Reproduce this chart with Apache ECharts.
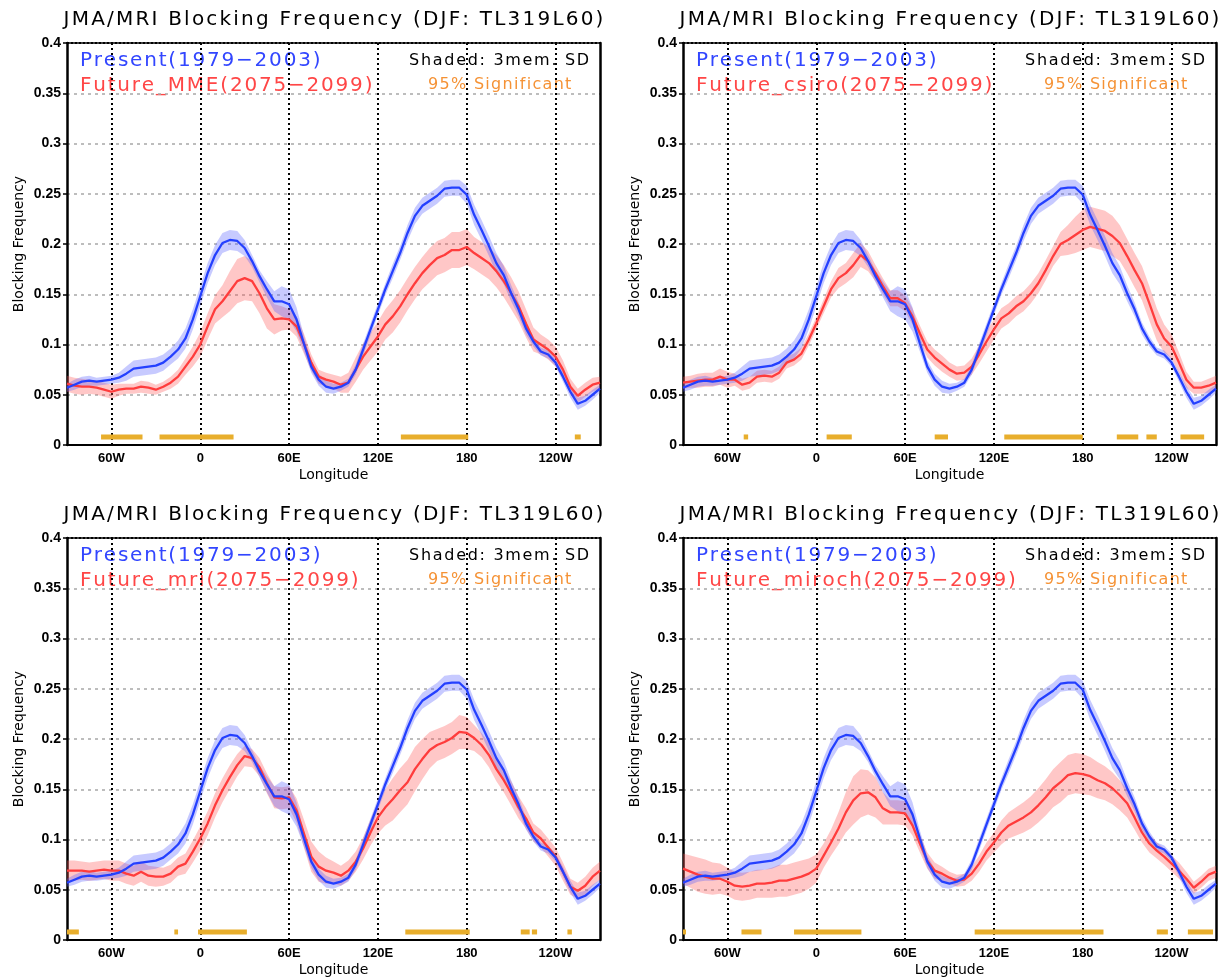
<!DOCTYPE html>
<html>
<head>
<meta charset="utf-8">
<title>JMA/MRI Blocking Frequency</title>
<script src="https://cdn.jsdelivr.net/npm/echarts@6/dist/echarts.min.js"></script>
<style>
  html, body { margin: 0; padding: 0; background: #fff; }
  #chart { width: 1231px; height: 978px; }
</style>
</head>
<body>
<div id="chart"></div>
<script>
// longitude (deg, east positive; 180..270 = 180..90W)
const LON = [-90,-85,-80,-75,-70,-65,-60,-55,-50,-45,-40,-35,-30,-25,-20,-15,-10,-5,0,5,10,15,20,25,30,35,40,45,50,55,60,65,70,75,80,85,90,95,100,105,110,115,120,125,130,135,140,145,150,155,160,165,170,175,180,185,190,195,200,205,210,215,220,225,230,235,240,245,250,255,260,265,270]

const TICKS = [-60, 0, 60, 120, 180, 240]
const TICK_LABELS = ['60W', '0', '60E', '120E', '180', '120W']

// Present (1979-2003), same in every panel
const PRESENT = [
  0.057,0.060,0.063,0.064,0.063,0.064,0.065,0.067,0.071,0.076,
  0.077,0.078,0.079,0.082,0.088,0.095,0.106,0.125,0.148,0.171,
  0.189,0.201,0.204,0.203,0.196,0.183,0.168,0.155,0.143,0.143,
  0.140,0.125,0.101,0.078,0.065,0.058,0.056,0.058,0.062,0.075,
  0.095,0.115,0.135,0.155,0.173,0.191,0.211,0.228,0.238,0.243,
  0.248,0.255,0.256,0.256,0.249,0.229,0.214,0.198,0.181,0.169,
  0.151,0.135,0.116,0.103,0.093,0.090,0.082,0.068,0.053,0.041,
  0.044,0.050,0.056]
const PRESENT_SD = [
  0.004,0.005,0.005,0.005,0.004,0.004,0.004,0.005,0.007,0.008,
  0.008,0.008,0.008,0.008,0.008,0.009,0.010,0.010,0.010,0.010,
  0.010,0.010,0.010,0.010,0.008,0.006,0.006,0.008,0.010,0.015,
  0.015,0.012,0.008,0.006,0.006,0.006,0.005,0.004,0.004,0.005,
  0.006,0.006,0.006,0.006,0.007,0.007,0.008,0.008,0.008,0.008,
  0.008,0.008,0.008,0.008,0.009,0.010,0.010,0.010,0.010,0.009,
  0.008,0.007,0.006,0.005,0.004,0.004,0.004,0.005,0.006,0.006,
  0.005,0.005,0.004]

const FUT_MME = [
  0.061,0.059,0.058,0.058,0.057,0.055,0.053,0.055,0.056,0.056,
  0.058,0.057,0.055,0.058,0.062,0.068,0.078,0.088,0.100,0.118,
  0.135,0.143,0.153,0.163,0.166,0.163,0.151,0.136,0.125,0.126,
  0.125,0.118,0.101,0.082,0.068,0.065,0.063,0.060,0.062,0.075,
  0.088,0.098,0.108,0.120,0.128,0.138,0.150,0.161,0.171,0.179,
  0.186,0.189,0.194,0.194,0.197,0.191,0.186,0.181,0.173,0.163,
  0.151,0.138,0.121,0.105,0.100,0.095,0.088,0.075,0.058,0.049,
  0.055,0.060,0.062]
const SD_MME = [
  0.008,0.008,0.008,0.007,0.007,0.007,0.007,0.006,0.005,0.005,
  0.006,0.006,0.005,0.005,0.006,0.007,0.008,0.010,0.012,0.013,
  0.014,0.016,0.020,0.022,0.022,0.020,0.020,0.020,0.015,0.012,
  0.010,0.010,0.010,0.008,0.007,0.007,0.007,0.008,0.010,0.012,
  0.013,0.014,0.015,0.015,0.016,0.016,0.016,0.016,0.016,0.017,
  0.017,0.017,0.018,0.018,0.018,0.016,0.016,0.016,0.016,0.016,
  0.016,0.015,0.014,0.012,0.010,0.010,0.010,0.009,0.008,0.007,
  0.007,0.007,0.006]

const FUT_CSIRO = [
  0.062,0.063,0.064,0.065,0.065,0.068,0.065,0.065,0.060,0.062,
  0.068,0.069,0.068,0.072,0.082,0.085,0.091,0.105,0.121,0.138,
  0.155,0.166,0.171,0.179,0.189,0.183,0.171,0.158,0.146,0.146,
  0.141,0.128,0.111,0.095,0.087,0.081,0.075,0.071,0.072,0.078,
  0.090,0.103,0.115,0.126,0.131,0.138,0.143,0.151,0.161,0.174,
  0.188,0.200,0.204,0.209,0.214,0.217,0.215,0.213,0.208,0.201,
  0.188,0.174,0.161,0.141,0.120,0.106,0.098,0.082,0.065,0.057,
  0.057,0.059,0.062]
const SD_CSIRO = [
  0.006,0.006,0.007,0.007,0.007,0.008,0.008,0.006,0.006,0.006,
  0.006,0.006,0.006,0.006,0.006,0.006,0.006,0.006,0.006,0.007,
  0.008,0.010,0.010,0.012,0.012,0.010,0.008,0.008,0.008,0.008,
  0.008,0.008,0.008,0.008,0.008,0.008,0.007,0.007,0.007,0.008,
  0.009,0.010,0.010,0.010,0.010,0.010,0.010,0.010,0.010,0.010,
  0.010,0.012,0.015,0.018,0.020,0.020,0.020,0.020,0.020,0.018,
  0.017,0.017,0.017,0.017,0.016,0.014,0.012,0.010,0.008,0.006,
  0.006,0.007,0.007]

const FUT_MRI = [
  0.069,0.069,0.069,0.068,0.069,0.070,0.069,0.069,0.066,0.064,
  0.068,0.064,0.063,0.063,0.066,0.073,0.076,0.088,0.101,0.116,
  0.134,0.149,0.162,0.174,0.183,0.181,0.172,0.156,0.142,0.141,
  0.142,0.129,0.106,0.083,0.073,0.069,0.067,0.064,0.069,0.078,
  0.091,0.107,0.122,0.132,0.140,0.149,0.157,0.170,0.180,0.189,
  0.194,0.197,0.201,0.207,0.206,0.201,0.194,0.184,0.170,0.159,
  0.146,0.132,0.121,0.107,0.101,0.092,0.083,0.068,0.053,0.049,
  0.054,0.063,0.069]
const SD_MRI = [
  0.010,0.010,0.009,0.009,0.009,0.009,0.010,0.010,0.010,0.010,
  0.010,0.010,0.010,0.009,0.009,0.009,0.010,0.011,0.012,0.012,
  0.012,0.012,0.012,0.011,0.010,0.009,0.009,0.010,0.011,0.011,
  0.011,0.012,0.014,0.015,0.015,0.013,0.011,0.010,0.010,0.010,
  0.011,0.013,0.016,0.018,0.021,0.022,0.022,0.022,0.020,0.018,
  0.016,0.016,0.016,0.017,0.016,0.013,0.012,0.012,0.012,0.012,
  0.012,0.011,0.010,0.009,0.009,0.009,0.009,0.009,0.008,0.008,
  0.009,0.009,0.009]

const FUT_MIROCH = [
  0.071,0.068,0.065,0.063,0.061,0.061,0.058,0.054,0.053,0.054,
  0.056,0.056,0.057,0.059,0.059,0.061,0.063,0.066,0.071,0.084,
  0.097,0.111,0.127,0.139,0.146,0.147,0.142,0.131,0.127,0.127,
  0.126,0.114,0.096,0.079,0.069,0.066,0.062,0.059,0.060,0.066,
  0.076,0.088,0.097,0.107,0.114,0.118,0.122,0.127,0.134,0.142,
  0.151,0.157,0.164,0.166,0.165,0.163,0.159,0.156,0.151,0.144,
  0.136,0.122,0.107,0.096,0.089,0.083,0.076,0.069,0.061,0.052,
  0.058,0.065,0.068]
const SD_MIROCH = [
  0.015,0.016,0.017,0.017,0.016,0.015,0.014,0.014,0.014,0.014,
  0.014,0.014,0.015,0.016,0.016,0.016,0.016,0.015,0.014,0.012,
  0.013,0.016,0.020,0.024,0.024,0.022,0.020,0.016,0.012,0.012,
  0.012,0.010,0.009,0.008,0.008,0.007,0.006,0.006,0.006,0.007,
  0.008,0.009,0.010,0.012,0.013,0.014,0.015,0.016,0.017,0.018,
  0.019,0.020,0.020,0.020,0.020,0.019,0.018,0.017,0.016,0.015,
  0.014,0.012,0.010,0.009,0.008,0.008,0.008,0.008,0.007,0.006,
  0.006,0.006,0.006]

// 95% significant longitude ranges [from, to]
const SIG_MME = [[-67, -39], [-27.5, 22.5], [135.5, 181], [253, 257]]
const SIG_CSIRO = [[-49, -46], [7, 24], [80, 89], [127, 180], [203, 217.5], [223, 230], [246, 262]]
const SIG_MRI = [[-90, -82], [-17.5, -15], [-1.5, 31.5], [138.5, 182], [216.5, 222.5], [224, 227.5], [248, 251]]
const SIG_MIROCH = [[-90, -88], [-50.5, -37], [-15, 30.5], [107, 194], [230, 237.5], [251, 268]]
const SIG_Y = 0.008

const TITLE = 'JMA/MRI Blocking Frequency (DJF: TL319L60)'
const PRESENT_LABEL = 'Present(1979\u22122003)'
const SHADE_LABEL = 'Shaded: 3mem. SD'
const SIG_LABEL = '95% Significant'

const PANELS = [
  { label: 'Future_MME(2075\u22122099)', mean: FUT_MME, sd: SD_MME, sig: SIG_MME },
  { label: 'Future_csiro(2075\u22122099)', mean: FUT_CSIRO, sd: SD_CSIRO, sig: SIG_CSIRO },
  { label: 'Future_mri(2075\u22122099)', mean: FUT_MRI, sd: SD_MRI, sig: SIG_MRI },
  { label: 'Future_miroch(2075\u22122099)', mean: FUT_MIROCH, sd: SD_MIROCH, sig: SIG_MIROCH }
]

const PANEL_POS = [[0, 0], [616, 0], [0, 495], [616, 495]]

const BLUE = '#2440ff'
const RED = '#ff3c3c'
const BLUE_BAND = 'rgba(80,90,255,0.32)'
const RED_BAND = 'rgba(255,80,80,0.32)'
const BAR = '#e8ae2c'
const ORANGE = '#f59235'

// wide-tracked text like the original plotting font
const spaced = (str) => str.split('').map(ch => '{c|' + ch + '}').join('')

const label = (x, y, str, size, pad, color, align) => ({
  type: 'text',
  x: x,
  y: y,
  silent: true,
  style: {
    text: spaced(str),
    fontSize: size,
    fontFamily: 'DejaVu Sans',
    fill: color,
    textAlign: align,
    textVerticalAlign: 'middle',
    rich: {
      c: { fontSize: size, fontFamily: 'DejaVu Sans', fill: color, padding: [0, pad, 0, pad] }
    }
  }
})

const bandItem = (fill) => (params, api) => {
  if (params.dataIndexInside !== 0) return null
  const n = params.dataInsideLength || LON.length
  const upper = []
  const lower = []
  for (let j = 0; j < n; j++) {
    upper.push(api.coord([api.value(0, j), api.value(2, j)]))
    lower.push(api.coord([api.value(0, j), api.value(1, j)]))
  }
  return {
    type: 'polygon',
    shape: { points: upper.concat(lower.reverse()) },
    style: { fill: fill }
  }
}

const sigItem = (params, api) => {
  const a = api.coord([api.value(0), api.value(2)])
  const b = api.coord([api.value(1), api.value(2)])
  return {
    type: 'rect',
    shape: { x: a[0], y: a[1] - 2.5, width: Math.max(b[0] - a[0], 3), height: 5 },
    style: { fill: BAR }
  }
}

const grids = []
const xMain = []
const xTop = []
const yMain = []
const yRight = []
const series = []
const texts = []

PANELS.forEach((p, i) => {
  const ox = PANEL_POS[i][0]
  const oy = PANEL_POS[i][1]

  grids.push({ left: 67 + ox, top: 43 + oy, width: 533, height: 402, containLabel: false, outerBoundsMode: 'none' })

  xMain.push({
    type: 'value', gridIndex: i, position: 'bottom', min: -90, max: 270,
    name: 'Longitude', nameLocation: 'middle', nameGap: 23,
    nameTextStyle: { fontFamily: 'DejaVu Sans', fontSize: 14, color: '#000' },
    axisLine: { show: true, onZero: false, lineStyle: { color: '#000', width: 2 } },
    axisTick: { show: false, customValues: TICKS },
    axisLabel: {
      customValues: TICKS, margin: 7,
      fontFamily: 'Liberation Sans', fontWeight: 'bold', fontSize: 13, color: '#000',
      formatter: (v) => TICK_LABELS[TICKS.indexOf(v)]
    },
    splitLine: { show: true, lineStyle: { color: '#000', width: 2, type: [2, 3] } }
  })
  xTop.push({
    type: 'value', gridIndex: i, position: 'top', min: -90, max: 270,
    axisLine: { show: true, onZero: false, lineStyle: { color: '#000', width: 2, type: [2, 2] } },
    axisTick: { show: false }, axisLabel: { show: false }, splitLine: { show: false }
  })
  yMain.push({
    type: 'value', gridIndex: i, position: 'left', min: 0, max: 0.4, interval: 0.05,
    name: 'Blocking Frequency', nameLocation: 'middle', nameGap: 41,
    nameTextStyle: { fontFamily: 'DejaVu Sans', fontSize: 14, color: '#000' },
    axisLine: { show: true, onZero: false, lineStyle: { color: '#000', width: 2.5 } },
    axisTick: { show: true, length: 4, lineStyle: { color: '#000', width: 1.5 } },
    axisLabel: { margin: 6, fontFamily: 'Liberation Sans', fontWeight: 'bold', fontSize: 14, color: '#000' },
    splitLine: { show: true, showMinLine: false, showMaxLine: false, lineStyle: { color: '#a8a8a8', width: 1.5, type: [3, 4] } }
  })
  yRight.push({
    type: 'value', gridIndex: i, position: 'right', min: 0, max: 0.4,
    axisLine: { show: true, onZero: false, lineStyle: { color: '#000', width: 2.5 } },
    axisTick: { show: false }, axisLabel: { show: false }, splitLine: { show: false }
  })

  series.push({
    type: 'custom', xAxisIndex: i, yAxisIndex: i, silent: true, z: 1,
    data: LON.map((x, k) => [x, p.mean[k] - p.sd[k], p.mean[k] + p.sd[k]]),
    encode: { x: 0, y: [1, 2] },
    renderItem: bandItem(RED_BAND)
  })
  series.push({
    type: 'custom', xAxisIndex: i, yAxisIndex: i, silent: true, z: 2,
    data: LON.map((x, k) => [x, PRESENT[k] - PRESENT_SD[k], PRESENT[k] + PRESENT_SD[k]]),
    encode: { x: 0, y: [1, 2] },
    renderItem: bandItem(BLUE_BAND)
  })
  series.push({
    type: 'line', xAxisIndex: i, yAxisIndex: i, silent: true, z: 3,
    data: LON.map((x, k) => [x, p.mean[k]]),
    showSymbol: false, symbol: 'none',
    lineStyle: { color: RED, width: 2.3 }
  })
  series.push({
    type: 'line', xAxisIndex: i, yAxisIndex: i, silent: true, z: 4,
    data: LON.map((x, k) => [x, PRESENT[k]]),
    showSymbol: false, symbol: 'none',
    lineStyle: { color: BLUE, width: 2.3 }
  })
  series.push({
    type: 'custom', xAxisIndex: i, yAxisIndex: i, silent: true, z: 5,
    data: p.sig.map(r => [r[0], r[1], SIG_Y]),
    encode: { x: [0, 1], y: 2 },
    renderItem: sigItem
  })

  texts.push(label(333.5 + ox, 20 + oy, TITLE, 20, 1.1, '#000', 'center'))
  texts.push(label(79 + ox, 61 + oy, PRESENT_LABEL, 20, 0.9, '#3246ff', 'left'))
  texts.push(label(79 + ox, 86 + oy, p.label, 20, 0.9, '#ff4646', 'left'))
  texts.push(label(590 + ox, 61 + oy, SHADE_LABEL, 16, 0.85, '#000', 'right'))
  texts.push(label(572 + ox, 85 + oy, SIG_LABEL, 16, 0.65, ORANGE, 'right'))
})

const chart = echarts.init(document.getElementById('chart'))
chart.setOption({
  backgroundColor: '#fff',
  animation: false,
  grid: grids,
  xAxis: xMain.concat(xTop),
  yAxis: yMain.concat(yRight),
  series: series,
  graphic: texts
})
</script>
</body>
</html>
